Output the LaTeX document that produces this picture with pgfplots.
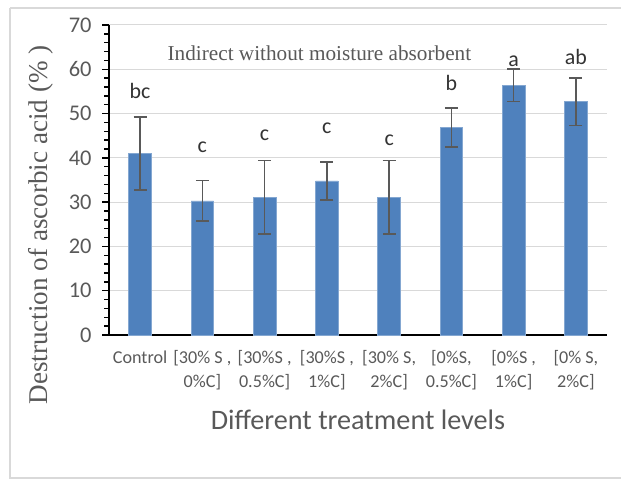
\documentclass[border=0pt]{standalone}
\usepackage{pgfplots}
\pgfplotsset{compat=1.18}
\usepackage{fontspec}
\setmainfont{Carlito}
\newfontfamily\tnr{Liberation Serif}
\definecolor{barblue}{HTML}{4F81BD}
\definecolor{txtgray}{HTML}{595959}
\definecolor{gridgray}{HTML}{D9D9D9}
\begin{document}
\begin{tikzpicture}[x=1bp,y=1bp]
\useasboundingbox (0,0) rectangle (621,480);
\draw[gridgray, line width=1.2bp] (10,472) -- (640,472);
\draw[gridgray, line width=1.2bp] (10,472) -- (10,2) -- (640,2);
\begin{axis}[
  at={(109bp,145bp)}, anchor=south west,
  scale only axis, width=498bp, height=310bp,
  xmin=-0.5, xmax=7.5, ymin=0, ymax=70,
  axis x line*=bottom, axis y line*=left,
  axis line style={black, line width=1.3bp},
  x axis line style={-}, y axis line style={-},
  xtick={0,...,7},
  xticklabels={Control,{[30\% S ,\\0\%C]},{[30\%S ,\\0.5\%C]},{[30\%S ,\\1\%C]},{[30\% S,\\2\%C]},{[0\%S,\\0.5\%C]},{[0\%S ,\\1\%C]},{[0\% S,\\2\%C]}},
  xticklabel style={align=center, font=\fontsize{18.2}{24}\selectfont, text=txtgray, anchor=north, yshift=-5bp},
  x tick style={draw=none},
  ytick={0,10,...,70},
  minor y tick num=4,
  yticklabel style={font=\fontsize{22.5}{26}\selectfont, text=txtgray, xshift=-7bp},
  /pgf/number format/assume math mode=true,
  y tick style={black, line width=1.3bp},
  major tick length=7bp, minor tick length=5bp,
  tick align=outside,
  ymajorgrids, major grid style={gridgray, line width=1bp},
  xlabel={Different treatment levels},
  xlabel style={font=\fontsize{28.3}{32}\selectfont, text=txtgray, at={(rel axis cs:0.5,-0.274)}, anchor=center},
  ylabel={\tnr Destruction of ascorbic acid (\% )},
  ylabel style={font=\fontsize{27.2}{30}\selectfont, text=txtgray, at={(rel axis cs:-0.137,0.355)}, anchor=center},
  clip=false,
]
\addplot[ybar, bar width=22.7bp, fill=barblue, draw=barblue!70!white, line width=0.6bp,
  error bars/.cd, y dir=both, y explicit,
  error bar style={color=txtgray, line width=1.7bp},
  error mark options={rotate=90, mark size=6.5bp, line width=1.7bp, color=txtgray}]
coordinates {
(0,41.0) +- (0,8.3)
(1,30.3) +- (0,4.6)
(2,31.1) +- (0,8.3)
(3,34.8) +- (0,4.3)
(4,31.1) +- (0,8.3)
(5,46.9) +- (0,4.4)
(6,56.4) +- (0,3.7)
(7,52.7) +- (0,5.4)
};
\addplot[draw=none, mark=none, nodes near coords, point meta=explicit symbolic,
  nodes near coords style={anchor=base, font=\fontsize{22}{26}\selectfont, text=black!80, inner sep=0pt}]
coordinates {
(0,53.4) [bc]
(1,41.1) [c]
(2,44.0) [c]
(3,45.5) [c]
(4,42.7) [c]
(5,55.1) [b]
(6,60.6) [a]
(7,61.0) [ab]
};
\node[font=\tnr\fontsize{21.3}{25}\selectfont, text=txtgray, anchor=center] at (rel axis cs:0.4225,0.91) {Indirect without moisture absorbent};
\end{axis}
\end{tikzpicture}
\end{document}
